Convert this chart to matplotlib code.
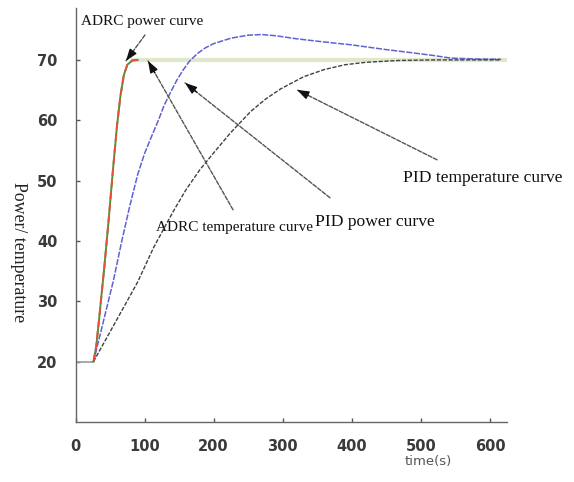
import matplotlib
matplotlib.use("Agg")
import matplotlib.pyplot as plt

# ---- data ----
t_start = [0, 26]
v_start = [20, 20]

t_adrc = [26, 30, 35, 42, 48, 54, 60, 65, 70, 75, 82, 90]
adrc_power = [20, 22.5, 28, 36, 43.5, 51.5, 59, 64, 67.5, 69.2, 69.9, 70]
adrc_temp = [20, 22.5, 28, 36, 43.5, 51.5, 59, 64, 67.5, 69.2, 69.9, 70]

t_set = [80, 655]
v_set = [70, 70]

t_pid_temp = [26, 40, 55, 67, 79, 90, 100, 110, 120, 128, 137, 146, 155, 165, 177,
              188, 200, 225, 250, 270, 290, 320, 350, 399, 450, 486, 520, 543, 580, 616]
pid_temp = [20, 26.5, 33.5, 40, 46, 51, 54.5, 57.3, 60, 62.4, 64.5, 66.5, 68.2,
            69.8, 71.1, 72.0, 72.7, 73.6, 74.1, 74.2, 74.0, 73.5, 73.1, 72.5, 71.7,
            71.2, 70.7, 70.3, 70.15, 70.1]

t_pid_power = [26, 60, 90, 113, 130, 142, 160, 180, 200, 225, 254, 275, 297, 330,
               360, 390, 420, 467, 520, 616]
pid_power = [20, 27, 33.2, 38.9, 42.5, 45, 48.5, 51.8, 54.6, 58, 61.5, 63.5, 65.2,
             67.2, 68.4, 69.2, 69.6, 69.9, 70, 70]

x_ticks = [0, 100, 200, 300, 400, 500, 600]
y_ticks = [20, 30, 40, 50, 60, 70]

W, H = 574, 482
fig = plt.figure(figsize=(W / 100, H / 100), dpi=100)
ax = fig.add_axes([75.5 / W, 1 - 422 / H, 431.8 / W, (422 - 8) / H])
ax.set_xlim(0, 625)
ax.set_ylim(10, 78.6)

ax.plot(t_start, v_start, color="#9a9a9a", lw=1.2, solid_capstyle="butt")
ax.plot(t_set, v_set, color="#e0e8cc", lw=3, solid_capstyle="butt", zorder=1)
ax.plot(t_adrc, adrc_temp, color="#3f9a3f", lw=1.4, zorder=3)
ax.plot(t_adrc, adrc_power, color="#e8503a", lw=1.4, ls=(0, (4, 2)), zorder=4)
ax.plot(t_pid_temp, pid_temp, color="#6062d0", lw=1.1, ls=(0, (4, 1)), zorder=3)
ax.plot(t_pid_power, pid_power, color="#404040", lw=1.0, ls=(0, (3, 1.2)), zorder=3)

for s in ["top", "right"]:
    ax.spines[s].set_visible(False)
for s in ["left", "bottom"]:
    ax.spines[s].set_color("#666666")
    ax.spines[s].set_linewidth(1.0)

ax.set_xticks(x_ticks)
ax.set_yticks(y_ticks)
ax.tick_params(direction="in", length=3, width=1, color="#555555",
               labelsize=10.5, labelcolor="#3a3a3a")
ax.tick_params(axis="x", pad=12)
ax.tick_params(axis="y", pad=13)
for lab in ax.get_xticklabels() + ax.get_yticklabels():
    lab.set_fontweight("bold")


def px(x, y):
    return ((x - 75.5) / 0.6908, 70 - (y - 60) / 6.04)


arrows = [((145, 35), (126, 61)),
          ((233, 210), (148, 61)),
          ((330, 198), (185, 83)),
          ((437, 160), (297, 90))]
for tail, tip in arrows:
    a = px(*tail)
    b = px(*tip)
    ax.annotate("", xy=b, xytext=a,
                arrowprops=dict(arrowstyle="-", color="#555555", lw=1.0,
                                ls=(0, (3, 1.2)), shrinkA=0, shrinkB=0), zorder=5)
    f = 0.08
    near = (b[0] + (a[0] - b[0]) * f, b[1] + (a[1] - b[1]) * f)
    ax.annotate("", xy=b, xytext=near,
                arrowprops=dict(arrowstyle="-|>,head_length=0.7,head_width=0.25",
                                color="#111111", lw=1.0, shrinkA=0, shrinkB=0), zorder=6)

serif = ["Liberation Serif", "DejaVu Serif"]


def ftext(x, y, s, **kw):
    fig.text(x / W, 1 - y / H, s, family=serif, **kw)


ftext(81, 22, "ADRC power curve", fontsize=11, va="center", ha="left", color="#111111")
ftext(156, 228, "ADRC temperature curve", fontsize=11, va="center", ha="left", color="#111111")
ftext(315, 222, "PID power curve", fontsize=12.6, va="center", ha="left", color="#111111")
ftext(403, 178, "PID temperature curve", fontsize=12.6, va="center", ha="left", color="#111111")
ftext(18, 252, "Power/ temperature", fontsize=12.8, va="center", ha="center",
      rotation=-90, color="#222222")
fig.text(428 / W, 1 - 462 / H, "time(s)", fontsize=9.5, color="#555555",
         va="center", ha="center", family="DejaVu Sans")

fig.savefig("out.png", dpi=100)
